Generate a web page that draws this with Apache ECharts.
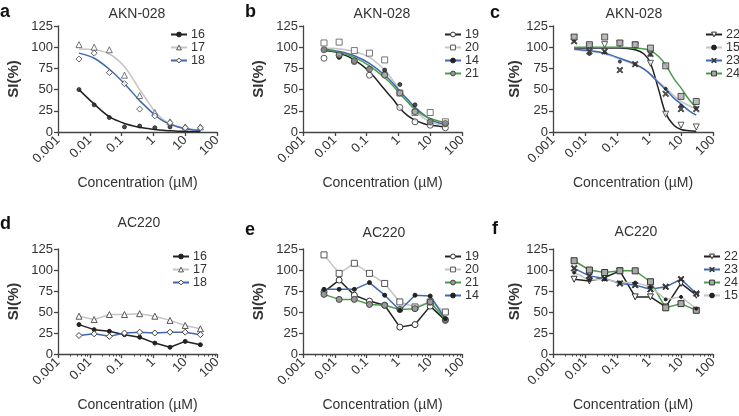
<!DOCTYPE html>
<html><head><meta charset="utf-8">
<script src="https://cdn.jsdelivr.net/npm/echarts@6/dist/echarts.min.js"></script>
<style>html,body{margin:0;padding:0;background:#fff}#c{width:739px;height:416px}</style>
</head><body><div id="c"></div>
<script>
// ---- data ----
const conc = [0.00457, 0.0137, 0.0412, 0.123, 0.37, 1.11, 3.33, 10, 30];
const fitConc = [0.00457, 0.0137, 0.0412, 0.123, 0.37, 0.7, 1.11, 2, 3.33, 6, 10, 18, 30];
const xTickLabels = ['0.001', '0.01', '0.1', '1', '10', '100'];
const panelLetters = ['a', 'b', 'c', 'd', 'e', 'f'];
const panelTitles = ['AKN-028', 'AKN-028', 'AKN-028', 'AC220', 'AC220', 'AC220'];
const yAxisName = 'SI(%)';
const xAxisName = 'Concentration (\u00b5M)';

// panel a (AKN-028)
const a16_pts = [50, 32, 17, 6, 7, 5, 6, 5, 5];
const a17_pts = [103, 100, 97, 67, 43, 23, 12, 6, 6];
const a18_pts = [86, 93, 70, 57, 27, 19, 11, 5, 5];
const a16_fit = [50, 33, 18, 10, 5.5, 4, 3, 2, 1.5, 1, 0.8, 0.5, 0.4];
const a17_fit = [98, 97, 92, 77, 50, 35, 24, 15, 10, 6.5, 4.5, 3, 2.5];
const a18_fit = [93, 87, 74, 57, 37, 27, 20, 13, 9, 6, 4, 2.5, 2];
// panel b (AKN-028)
const b19_pts = [87, 90, 83, 67, 68, 29, 12, 8, 5];
const b20_pts = [105, 106, 96, 93, 85, 46, 23, 23, 12];
const b14_pts = [97, 88, 84, 75, 73, 56, 32, 12, 9];
const b21_pts = [97, 91, 84, 74, 67, 46, 24, 12, 10];
const b19_fit = [96, 93, 85, 71, 50, 38, 28, 19, 14, 10, 8, 7, 6];
const b20_fit = [99, 98, 95, 88, 73, 60, 48, 35, 25, 17, 12, 9, 7];
const b14_fit = [98, 95, 90, 81, 67, 57, 48, 38, 29, 21, 15, 11, 9];
const b21_fit = [97, 94, 88, 78, 64, 54, 45, 35, 27, 20, 16, 13, 11];
// panel c (AKN-028)
const c22_pts = [111, 101, 103, 104, 102, 81, 21, 8, 6];
const c15_pts = [108, 92, 94, 83, 80, 91, 51, 31, 28];
const c23_pts = [107, 95, 95, 73, 80, 92, 45, 27, 27];
const c24_pts = [112, 103, 112, 105, 103, 99, 78, 42, 36];
const c22_fit = [99, 99, 99, 99, 97, 92, 81, 50, 22, 8, 3, 1.5, 1];
const c15_fit = [97, 95, 92, 86, 79, 74, 68, 59, 52, 43, 36, 31, 27];
const c23_fit = [98, 96, 93, 87, 80, 74, 68, 58, 50, 40, 33, 25, 20];
const c24_fit = [100, 100, 100, 100, 99, 98, 96, 89, 79, 63, 52, 38, 29];
// panel d (AC220)
const d16 = [35, 29, 27, 23, 20, 13, 8, 15, 11];
const d17 = [45, 41, 47, 47, 48, 45, 40, 34, 30];
const d18 = [22, 24, 21, 25, 26, 25, 26, 26, 23];
// panel e (AC220)
const e19 = [74, 88, 70, 63, 58, 32, 35, 57, 40];
const e20 = [118, 96, 108, 96, 84, 62, 56, 62, 50];
const e21 = [71, 65, 65, 59, 58, 53, 54, 62, 41];
const e14 = [77, 77, 77, 85, 70, 52, 70, 69, 42];
// panel f (AC220)
const f22 = [89, 87, 91, 99, 68, 68, 56, 84, 70];
const f23 = [102, 93, 90, 84, 82, 77, 80, 89, 72];
const f24 = [111, 100, 97, 99, 99, 86, 55, 60, 52];
const f15 = [97, 88, 89, 85, 85, 80, 65, 68, 54];

// ---- styles ----
const FONT = 'Liberation Sans, Arial, Helvetica, sans-serif';
const TXT = '#333';
const BLACK = '#222', GRAY = '#c4c4c4', BLUE = '#3f68b2', GREEN = '#4a9c4a';
const XSYM = 'path://M0,1.5L1.5,0L5,3.5L8.5,0L10,1.5L6.5,5L10,8.5L8.5,10L5,6.5L1.5,10L0,8.5L3.5,5Z';
const styles = {
  '16': {line: BLACK, symbol: 'circle', size: 4, fill: BLACK, border: BLACK},
  '17': {line: GRAY, symbol: 'triangle', size: 6, fill: '#fff', border: '#555'},
  '18': {line: BLUE, symbol: 'diamond', size: 6, fill: '#fff', border: '#444'},
  '19': {line: BLACK, symbol: 'circle', size: 6, fill: '#fff', border: '#333'},
  '20': {line: GRAY, symbol: 'rect', size: 6, fill: '#fff', border: '#555'},
  '14': {line: BLUE, symbol: 'circle', size: 4, fill: BLACK, border: BLACK},
  '21': {line: GREEN, symbol: 'circle', size: 6, fill: '#999', border: '#444'},
  '22': {line: BLACK, symbol: 'triangle', rot: 180, size: 6, fill: '#fff', border: '#333'},
  '15': {line: GRAY, symbol: 'circle', size: 3, fill: BLACK, border: BLACK},
  '23': {line: BLUE, symbol: XSYM, size: 6, fill: '#333', border: '#333'},
  '24': {line: GREEN, symbol: 'rect', size: 6, fill: '#aaa', border: '#333'}
};

const grids = [
  {left: 58, top: 26, width: 159, height: 106},
  {left: 303, top: 26, width: 159, height: 106},
  {left: 553, top: 26, width: 160, height: 106},
  {left: 58, top: 249, width: 159, height: 105},
  {left: 303, top: 249, width: 159, height: 105},
  {left: 553, top: 249, width: 160, height: 105}
];
const yNameGaps = [37, 37, 16, 37, 37, 16];
const legendPos = [
  {left: 170, top: 28}, {left: 444, top: 28}, {left: 705, top: 28},
  {left: 172, top: 250}, {left: 444, top: 250}, {left: 703, top: 250}
];
const letterPos = [[0, 12], [245, 12], [490, 13], [0, 224], [245, 230], [492, 229]];
const titlePos = [[137, 14], [382, 14], [634, 14], [139, 223], [384, 233], [636, 232]];

const fitPanels = [
  {keys: ['16', '17', '18'], pts: [a16_pts, a17_pts, a18_pts], fit: [a16_fit, a17_fit, a18_fit]},
  {keys: ['19', '20', '14', '21'], pts: [b19_pts, b20_pts, b14_pts, b21_pts], fit: [b19_fit, b20_fit, b14_fit, b21_fit]},
  {keys: ['22', '15', '23', '24'], pts: [c22_pts, c15_pts, c23_pts, c24_pts], fit: [c22_fit, c15_fit, c23_fit, c24_fit]}
];
const linePanels = [
  {keys: ['16', '17', '18'], vals: [d16, d17, d18]},
  {keys: ['19', '20', '21', '14'], vals: [e19, e20, e21, e14]},
  {keys: ['22', '23', '24', '15'], vals: [f22, f23, f24, f15]}
];

const series = [];
const legends = [];
function base(p, k) {
  const s = styles[k];
  return {
    xAxisIndex: p, yAxisIndex: p,
    symbol: s.symbol, symbolSize: s.size, symbolRotate: s.rot || 0,
    itemStyle: {color: s.fill, borderColor: s.border, borderWidth: 1},
    lineStyle: {color: s.line, width: 1.5},
    emphasis: {disabled: true}, silent: true, animation: false
  };
}
fitPanels.forEach((fp, p) => {
  const names = [];
  fp.keys.forEach((k, j) => {
    const nm = panelLetters[p] + ':' + k;
    names.push(nm);
    series.push(Object.assign(base(p, k), {
      type: 'line', name: nm, smooth: 0.35, showSymbol: false, z: 2,
      data: fitConc.map((c, i) => [c, fp.fit[j][i]])
    }));
  });
  fp.keys.forEach((k, j) => {
    series.push(Object.assign(base(p, k), {
      type: 'scatter', name: panelLetters[p] + ':' + k + ':pts', z: 3,
      data: conc.map((c, i) => [c, fp.pts[j][i]])
    }));
  });
  legends.push(names);
});
linePanels.forEach((lp, q) => {
  const p = q + 3;
  const names = [];
  lp.keys.forEach((k, j) => {
    const nm = panelLetters[p] + ':' + k;
    names.push(nm);
    series.push(Object.assign(base(p, k), {
      type: 'line', name: nm, showSymbol: true, showAllSymbol: true, z: 2,
      data: conc.map((c, i) => [c, lp.vals[j][i]])
    }));
  });
  legends.push(names);
});

const axisLineStyle = {color: '#444', width: 1.3};
const option = {
  animation: false,
  textStyle: {fontFamily: FONT},
  grid: grids,
  xAxis: grids.map((g, i) => ({
    type: 'log', logBase: 10, min: 0.001, max: 100, gridIndex: i,
    name: xAxisName, nameLocation: 'middle', nameGap: 44,
    nameTextStyle: {fontSize: 14, color: TXT, fontFamily: FONT},
    axisLine: {show: true, onZero: false, lineStyle: axisLineStyle},
    axisTick: {show: true, length: 4, lineStyle: axisLineStyle},
    minorTick: {show: i >= 3, splitNumber: 6, length: 2.5, lineStyle: {color: '#444', width: 1}},
    splitLine: {show: false}, minorSplitLine: {show: false},
    axisLabel: {rotate: 45, fontSize: 13, color: TXT, margin: 6, fontFamily: FONT,
      formatter: v => xTickLabels[Math.round(Math.log10(v)) + 3]}
  })),
  yAxis: grids.map((g, i) => ({
    type: 'value', min: 0, max: 125, interval: 25, gridIndex: i,
    name: yAxisName, nameLocation: 'middle', nameGap: yNameGaps[i], nameRotate: 90,
    nameTextStyle: {fontSize: 15, fontWeight: 'bold', color: TXT, fontFamily: FONT},
    axisLine: {show: true, onZero: false, lineStyle: axisLineStyle},
    axisTick: {show: true, length: 4, lineStyle: axisLineStyle},
    splitLine: {show: false},
    axisLabel: {fontSize: 13, color: TXT, margin: 5, fontFamily: FONT}
  })),
  legend: legends.map((names, i) => ({
    data: names, orient: 'vertical', left: legendPos[i].left, top: legendPos[i].top,
    itemWidth: 16, itemHeight: 6, itemGap: 0, padding: 0,
    itemStyle: {borderWidth: 1},
    selectedMode: false,
    formatter: n => n.split(':')[1],
    textStyle: {fontSize: 12.5, color: TXT, lineHeight: 10.5, fontFamily: FONT, padding: [0, 0, 0, -1]}
  })),
  graphic: panelLetters.map((l, i) => ({
    type: 'text', x: letterPos[i][0], y: letterPos[i][1], silent: true,
    style: {text: l, font: 'bold 18px ' + FONT, fill: '#111', textVerticalAlign: 'middle'}
  })).concat(panelTitles.map((t, i) => ({
    type: 'text', x: titlePos[i][0], y: titlePos[i][1], silent: true,
    style: {text: t, font: '14px ' + FONT, fill: TXT, textAlign: 'center', textVerticalAlign: 'middle'}
  }))),
  series: series
};
const chart = echarts.init(document.getElementById('c'), null, {renderer: 'canvas'});
chart.setOption(option);
</script>
</body></html>
